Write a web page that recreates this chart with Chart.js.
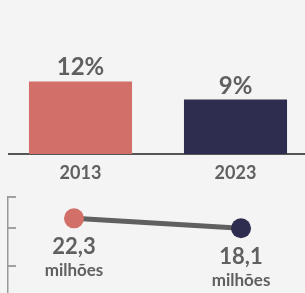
<!DOCTYPE html>
<html>
<head>
<meta charset="utf-8">
<script src="https://cdn.jsdelivr.net/npm/chart.js@4/dist/chart.umd.min.js"></script>
<style>
  html, body { margin: 0; padding: 0; background: #f4f4f4; overflow: hidden; }
  body { width: 305px; height: 293px; position: relative; }
  #barWrap { position: absolute; left: 8px; top: 0; width: 297px; height: 194px; overflow: hidden; }
  #barChart { position: absolute; left: -5px; top: 0; }
  #lineChart { position: absolute; left: 0; top: 187px; }
</style>
</head>
<body>
<div id="barWrap"><canvas id="barChart" width="310" height="194"></canvas></div>
<canvas id="lineChart" width="305" height="107"></canvas>
<script>
const years = ['2013', '2023'];
const sharePct = [12, 9];
const millions = [22.3, 18.1];
const unitLabel = 'milhões';
const lineTicks = [31.25, 18.2, 2.4];

const colors = ['#d16f68', '#2e2d4f'];
const textColor = '#606060';
const fontFamily = 'Lato, "Open Sans", sans-serif';

// labels above the bars
const barLabels = {
    id: 'barLabels',
    afterDatasetsDraw(chart) {
        const ctx = chart.ctx;
        const meta = chart.getDatasetMeta(0);
        ctx.save();
        ctx.fillStyle = textColor;
        ctx.font = 'bold 24px ' + fontFamily;
        ctx.textAlign = 'center';
        ctx.textBaseline = 'alphabetic';
        meta.data.forEach((bar, i) => {
            ctx.fillText(sharePct[i] + '%', bar.x, bar.y - 6);
        });
        ctx.restore();
    }
};

new Chart(document.getElementById('barChart'), {
    type: 'bar',
    data: {
        labels: years,
        datasets: [{
            data: sharePct,
            backgroundColor: colors,
            barPercentage: 0.665,
            categoryPercentage: 1
        }]
    },
    options: {
        responsive: false,
        devicePixelRatio: 1,
        animation: false,
        layout: { autoPadding: false, padding: { top: 33, left: 0, right: 0, bottom: 0 } },
        plugins: { legend: { display: false }, tooltip: { enabled: false } },
        scales: {
            x: {
                afterFit(scale) { scale.height = 40; },
                grid: { display: false, drawTicks: false },
                border: { display: true, color: '#555555', width: 2 },
                ticks: {
                    color: textColor,
                    padding: 8,
                    font: { family: fontFamily, size: 18, weight: 'bold' }
                }
            },
            y: { display: false, min: 0, max: 20 }
        }
    },
    plugins: [barLabels]
});

// value + unit below each point, small inward ticks on the axis
const pointLabels = {
    id: 'pointLabels',
    afterDraw(chart) {
        const ctx = chart.ctx;
        const area = chart.chartArea;
        const yScale = chart.scales.y;
        ctx.save();
        ctx.strokeStyle = '#a0a0a0';
        ctx.lineWidth = 2;
        lineTicks.forEach(v => {
            const y = Math.round(yScale.getPixelForValue(v));
            ctx.beginPath();
            ctx.moveTo(area.left, y);
            ctx.lineTo(area.left + 8, y);
            ctx.stroke();
        });
        const meta = chart.getDatasetMeta(0);
        ctx.fillStyle = textColor;
        ctx.textAlign = 'center';
        ctx.textBaseline = 'alphabetic';
        meta.data.forEach((pt, i) => {
            ctx.font = 'bold 22px ' + fontFamily;
            ctx.fillText(millions[i].toFixed(1).replace('.', ','), pt.x, pt.y + 36);
            ctx.font = 'bold 17px ' + fontFamily;
            ctx.fillText(unitLabel, pt.x, pt.y + 58);
        });
        ctx.restore();
    }
};

new Chart(document.getElementById('lineChart'), {
    type: 'line',
    data: {
        datasets: [{
            data: millions.map((v, i) => ({ x: i, y: v })),
            borderColor: '#606060',
            borderWidth: 5,
            pointRadius: 10,
            pointBorderWidth: 0,
            pointBackgroundColor: colors,
            clip: false
        }]
    },
    options: {
        responsive: false,
        devicePixelRatio: 1,
        animation: false,
        layout: { autoPadding: false, padding: { top: 10, left: 8, right: 0, bottom: 0 } },
        plugins: { legend: { display: false }, tooltip: { enabled: false } },
        scales: {
            x: { type: 'linear', display: false, min: -0.395, max: 1.383 },
            y: {
                min: -9.5,
                max: 31.25,
                grid: { display: false, drawTicks: false },
                border: { display: true, color: '#999999', width: 1.5 },
                ticks: { display: false }
            }
        }
    },
    plugins: [pointLabels]
});
</script>
</body>
</html>
